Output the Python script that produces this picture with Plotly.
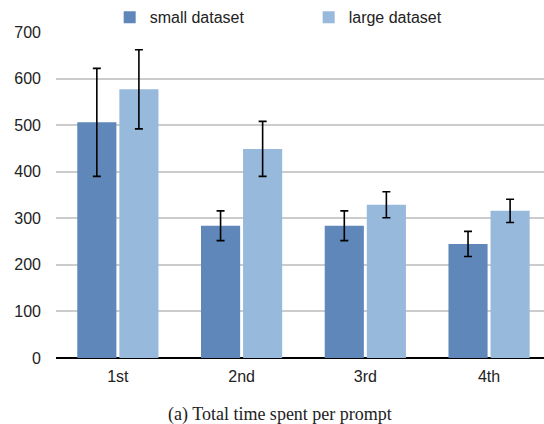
import plotly.graph_objects as go

categories = ["1st", "2nd", "3rd", "4th"]
small_values = [506, 284, 284, 245]
small_errors = [116, 32, 32, 27]
large_values = [577, 449, 329, 316]
large_errors = [85, 59, 28, 25]
y_ticks = [0, 100, 200, 300, 400, 500, 600, 700]
caption = "(a) Total time spent per prompt"

FONT = "Liberation Sans, Arial, Helvetica, sans-serif"

fig = go.Figure()
fig.add_trace(go.Bar(
    x=categories, y=small_values, name="small dataset",
    marker=dict(color="#5F87B9", line=dict(width=0)),
    error_y=dict(type="data", array=small_errors, visible=True,
                 color="black", thickness=1.6, width=4),
))
fig.add_trace(go.Bar(
    x=categories, y=large_values, name="large dataset",
    marker=dict(color="#97B9DC", line=dict(width=0)),
    error_y=dict(type="data", array=large_errors, visible=True,
                 color="black", thickness=1.6, width=4),
))

fig.update_layout(
    width=544, height=424,
    margin=dict(l=56, r=0, t=32, b=66, autoexpand=False),
    paper_bgcolor="white", plot_bgcolor="white",
    barmode="group", bargap=0.32, bargroupgap=0.07,
    font=dict(family=FONT, size=16, color="#222222"),
    showlegend=True,
    legend=dict(orientation="h", x=0.11, xanchor="left", y=1.045, yanchor="middle",
                entrywidth=154, font=dict(size=16), bgcolor="rgba(0,0,0,0)"),
    xaxis=dict(range=[-0.5, 3.444], showgrid=False, showline=False, zeroline=False,
               ticks="", ticklabelstandoff=7, tickfont=dict(size=16)),
    yaxis=dict(range=[0, 700], tickvals=y_ticks, showgrid=True, gridcolor="#cccccc",
               gridwidth=1.5, zeroline=True, zerolinecolor="black", zerolinewidth=1.6,
               showline=False, ticks="", ticklabelstandoff=14, tickfont=dict(size=16)),
    annotations=[dict(text=caption, xref="paper", yref="paper", x=0.46, y=-0.172,
                      xanchor="center", yanchor="middle", showarrow=False,
                      font=dict(family="Liberation Serif, Times New Roman, serif", size=18,
                                color="#222222"))],
)

fig.write_html("out.html", config={"displayModeBar": False},
               post_script="document.body.style.margin='0';document.body.style.overflow='hidden';")
